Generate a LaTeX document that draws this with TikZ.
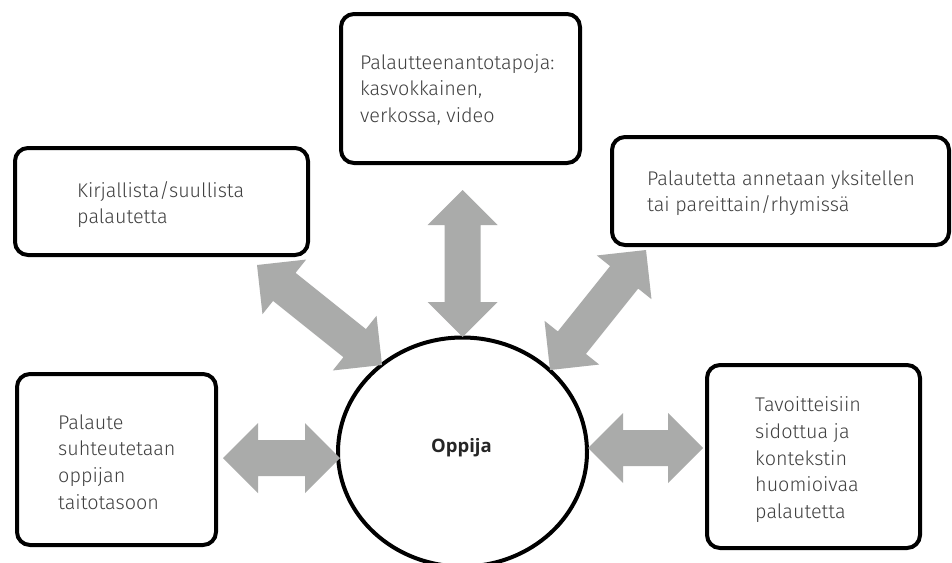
\documentclass[tikz,border=0pt]{standalone}
\usepackage{fontspec}
\setmainfont{Fira Sans Light}
\newfontfamily\osans{Open Sans}
\usetikzlibrary{calc,shapes.geometric}
\definecolor{arrowgray}{RGB}{170,171,170}
\definecolor{txtgray}{RGB}{64,64,64}
\definecolor{darktxt}{RGB}{38,38,38}
\tikzset{
  box/.style={draw=black, line width=4pt, rounded corners=13pt, fill=white, inner sep=0pt},
  label/.style={anchor=base west, inner sep=0pt, text=txtgray, font=\fontsize{19.8}{26.7}\selectfont},
  conn/.style={fill=arrowgray, draw=none},
}
\newcommand\dblarrow[2]{%
  \fill[conn] (#1)
    -- ($(#1)!35pt!(#2)!35pt!90:(#2)$)
    -- ($(#1)!35pt!(#2)!18pt!90:(#2)$)
    -- ($(#2)!35pt!(#1)!18pt!-90:(#1)$)
    -- ($(#2)!35pt!(#1)!35pt!-90:(#1)$)
    -- (#2)
    -- ($(#2)!35pt!(#1)!35pt!90:(#1)$)
    -- ($(#2)!35pt!(#1)!18pt!90:(#1)$)
    -- ($(#1)!35pt!(#2)!18pt!-90:(#2)$)
    -- ($(#1)!35pt!(#2)!35pt!-90:(#2)$)
    -- cycle;}
\newcommand\boxtext[1]{\parbox[t]{300pt}{\raggedright #1}}
\begin{document}
\begin{tikzpicture}[x=1pt,y=-1pt]
\useasboundingbox (0,0) rectangle (952,562);
\fill[white] (0,0) rectangle (952,562);

% boxes
\node[box, minimum width=239pt, minimum height=149pt] (top) at (460.5,88.5) {};
\node[box, minimum width=293pt, minimum height=107pt] (ul) at (161.5,201.5) {};
\node[box, minimum width=337pt, minimum height=108pt] (ur) at (780.5,191) {};
\node[box, minimum width=199pt, minimum height=171pt] (ll) at (116.5,459.5) {};
\node[box, minimum width=213pt, minimum height=183pt] (lr) at (813.5,456.5) {};

% learner
\node[draw=black, line width=4pt, ellipse, minimum width=249pt, minimum height=229pt, inner sep=0pt, fill=white] (oppija) at (462.5,452) {};
\node[inner sep=0pt, text=darktxt, font=\osans\bfseries\fontsize{18.5}{22}\selectfont] (oppijatxt) at (461.5,448) {Oppija};

% texts
\node[label] (toptxt) at (360,69) {\boxtext{Palautteenantotapoja:\\kasvokkainen,\\verkossa, video}};
\node[label] (ultxt) at (77,197) {\boxtext{Kirjallista/suullista\\palautetta}};
\node[label] (urtxt) at (647,185) {\boxtext{Palautetta annetaan yksitellen\\tai pareittain/rhymissä}};
\node[label] (lltxt) at (58,429) {\boxtext{Palaute\\suhteutetaan\\oppijan\\taitotasoon}};
\node[label] (lrtxt) at (755,411.7) {\boxtext{Tavoitteisiin\\sidottua ja\\kontekstin\\huomioivaa\\palautetta}};

% arrow end points
\coordinate (a1s) at (257,265); \coordinate (a1e) at (382,365);
\coordinate (a2s) at (462.5,190); \coordinate (a2e) at (462.5,337);
\coordinate (a3s) at (646,250); \coordinate (a3e) at (550,370);
\coordinate (a4s) at (223,458); \coordinate (a4e) at (340,458);
\coordinate (a5s) at (588,448); \coordinate (a5e) at (703,448);

\dblarrow{a1s}{a1e}
\dblarrow{a2s}{a2e}
\dblarrow{a3s}{a3e}
\dblarrow{a4s}{a4e}
\dblarrow{a5s}{a5e}
\end{tikzpicture}
\end{document}
